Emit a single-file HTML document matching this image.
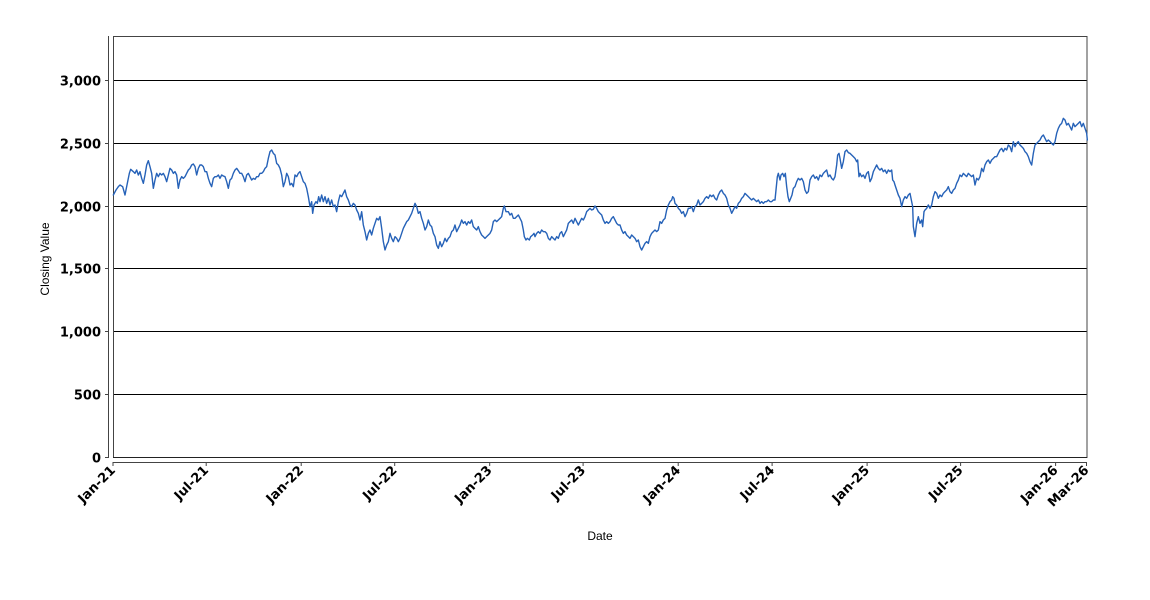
<!DOCTYPE html>
<html>
<head>
<meta charset="utf-8">
<style>
  html, body { margin:0; padding:0; background:#ffffff; }
  svg { display:block; }
  .tick { font-family:"DejaVu Sans","Liberation Sans",sans-serif; font-size:13px; font-weight:bold; fill:#000; }
  .title { font-family:"Liberation Sans","DejaVu Sans",sans-serif; font-size:12px; fill:#000; }
  .s { fill:none; stroke:#2662b8; stroke-width:1.4; stroke-linejoin:round; stroke-linecap:round; vector-effect:non-scaling-stroke; }
</style>
</head>
<body>
<svg width="1150" height="600" viewBox="0 0 1150 600" xmlns="http://www.w3.org/2000/svg">
  <rect x="0" y="0" width="1150" height="600" fill="#ffffff"/>

  <!-- gridlines -->
  <g stroke="#000" stroke-width="1">
    <line x1="113" y1="80.5" x2="1087" y2="80.5"/>
    <line x1="113" y1="143.5" x2="1087" y2="143.5"/>
    <line x1="113" y1="206.5" x2="1087" y2="206.5"/>
    <line x1="113" y1="268.5" x2="1087" y2="268.5"/>
    <line x1="113" y1="331.5" x2="1087" y2="331.5"/>
    <line x1="113" y1="394.5" x2="1087" y2="394.5"/>
  </g>

  <!-- plot border -->
  <rect x="113.5" y="36.5" width="973.5" height="421" fill="none" stroke="#444" stroke-width="1"/>
  <line x1="113" y1="457.5" x2="1087" y2="457.5" stroke="#222" stroke-width="1"/>

  <!-- y axis -->
  <line x1="108.5" y1="36" x2="108.5" y2="458" stroke="#444" stroke-width="1"/>
  <g stroke="#444" stroke-width="1">
    <line x1="105" y1="80.5" x2="108.5" y2="80.5"/>
    <line x1="105" y1="143.5" x2="108.5" y2="143.5"/>
    <line x1="105" y1="206.5" x2="108.5" y2="206.5"/>
    <line x1="105" y1="268.5" x2="108.5" y2="268.5"/>
    <line x1="105" y1="331.5" x2="108.5" y2="331.5"/>
    <line x1="105" y1="394.5" x2="108.5" y2="394.5"/>
    <line x1="105" y1="457.5" x2="108.5" y2="457.5"/>
  </g>
  <g class="tick" text-anchor="end">
    <text x="101" y="85.5">3,000</text>
    <text x="101" y="148.5">2,500</text>
    <text x="101" y="211.5">2,000</text>
    <text x="101" y="273.5">1,500</text>
    <text x="101" y="336.5">1,000</text>
    <text x="101" y="399.5">500</text>
    <text x="101" y="462.5">0</text>
  </g>

  <!-- x axis -->
  <line x1="113" y1="462.5" x2="1087" y2="462.5" stroke="#444" stroke-width="1"/>
  <g stroke="#444" stroke-width="1">
    <line x1="113" y1="462" x2="113" y2="466"/>
    <line x1="206.2" y1="462" x2="206.2" y2="466"/>
    <line x1="301.2" y1="462" x2="301.2" y2="466"/>
    <line x1="394.7" y1="462" x2="394.7" y2="466"/>
    <line x1="489.7" y1="462" x2="489.7" y2="466"/>
    <line x1="583.1" y1="462" x2="583.1" y2="466"/>
    <line x1="678.2" y1="462" x2="678.2" y2="466"/>
    <line x1="772.1" y1="462" x2="772.1" y2="466"/>
    <line x1="867.1" y1="462" x2="867.1" y2="466"/>
    <line x1="960.6" y1="462" x2="960.6" y2="466"/>
    <line x1="1055.6" y1="462" x2="1055.6" y2="466"/>
    <line x1="1086.5" y1="462" x2="1086.5" y2="466"/>
  </g>
  <g class="tick" text-anchor="end">
    <text transform="translate(116,471) rotate(-45)">Jan-21</text>
    <text transform="translate(209.2,471) rotate(-45)">Jul-21</text>
    <text transform="translate(304.2,471) rotate(-45)">Jan-22</text>
    <text transform="translate(397.7,471) rotate(-45)">Jul-22</text>
    <text transform="translate(492.7,471) rotate(-45)">Jan-23</text>
    <text transform="translate(586.1,471) rotate(-45)">Jul-23</text>
    <text transform="translate(681.2,471) rotate(-45)">Jan-24</text>
    <text transform="translate(775.1,471) rotate(-45)">Jul-24</text>
    <text transform="translate(870.1,471) rotate(-45)">Jan-25</text>
    <text transform="translate(963.6,471) rotate(-45)">Jul-25</text>
    <text transform="translate(1058.6,471) rotate(-45)">Jan-26</text>
    <text transform="translate(1089.5,471) rotate(-45)">Mar-26</text>
  </g>

  <!-- axis titles -->
  <text class="title" text-anchor="middle" transform="translate(49,259) rotate(-90)">Closing Value</text>
  <text class="title" text-anchor="middle" x="600" y="540">Date</text>

  <!-- series -->
  <g>
    <polyline class="s" transform="translate(110,140) scale(0.333333)" points="10,165 18,150 25,140 30,135 38,140 45,165 50,140 58,100 62,88 70,95 75,100 80,90 85,105 90,95 95,115 100,130 105,105 110,75 115,62 120,80 125,100 130,145 135,120 140,100 145,110 150,100 155,105 160,100 165,110 170,125 175,105 180,85 185,90 190,100 195,95 200,105 205,145 210,120 215,110 220,115 225,110 230,100 235,90 240,85 245,75 250,72 255,80 260,105 265,85 270,75 275,75 280,80 285,95 290,95 295,115 300,130 305,140 310,115 315,110 320,110 325,105 330,115 335,105 340,108 345,110 350,125 355,145 360,120 365,115 370,100 375,90 380,85 385,92 390,100 395,100 400,110 405,125 410,105 415,100 420,110 425,120 430,115 435,118 440,110 445,110 450,100 455,100 460,95 465,85 470,80 475,55 480,35 485,30 490,40 495,45 500,70 505,75 510,85 515,105 520,140 525,125 530,100 535,110 540,135 545,130 550,140 555,105 560,110 565,100 570,95 575,110 580,125 585,130 590,145 595,170 600,200"/>
    <polyline class="s" transform="translate(300,170) scale(0.333333)" points="30,110 35,95 38,130 42,105 48,95 52,100 56,80 60,95 65,75 70,95 75,80 80,100 85,85 90,105 95,90 100,110 105,105 110,125 115,95 120,75 125,80 130,70 135,60 140,80 145,90 150,105 155,110 160,100 165,105 170,120 175,130 180,150 185,125 190,165 195,185 200,210 205,190 210,180 215,195 220,175 225,160 230,145 235,150 240,140 245,175 250,215 255,240 260,225 265,215 270,190 275,205 280,215 285,200 290,205 295,215 300,205 305,190 310,175 315,165 320,155 325,150 330,140 335,130 340,115 345,100 350,110 355,130 360,125 365,145 370,160 375,180 380,170 385,150 390,165 395,170 400,190 405,200 410,225 415,235 420,215 425,230 430,220 435,205 440,215 445,205 450,200 455,185 460,180 465,165 470,185 475,175 480,165 485,150 490,160 495,155 500,165 505,155 510,160 515,150 520,170 525,175 530,180 535,170 540,185 545,195 550,200 555,205 560,200 565,195 570,190 575,180 580,155 585,150 590,155 600,145"/>
    <polyline class="s" transform="translate(490,190) scale(0.333333)" points="30,85 35,80 40,55 43,48 48,65 55,65 60,75 65,70 70,85 75,85 80,80 85,75 90,85 95,95 100,120 103,140 108,150 112,145 118,150 122,140 128,135 132,130 135,140 140,130 145,125 150,130 155,120 160,125 165,125 170,130 175,145 180,150 185,140 190,145 195,150 200,140 205,145 210,130 215,125 220,140 225,130 230,120 235,100 240,95 245,90 250,100 255,85 260,95 265,105 270,95 275,85 280,90 285,80 290,65 295,60 300,55 305,60 310,58 315,48 320,55 325,65 330,70 335,75 340,90 345,100 350,95 355,100 360,95 365,85 370,80 375,90 380,100 385,105 390,105 395,120 400,130 405,125 410,135 415,140 420,145 425,135 430,140 435,145 440,155 445,150 450,170 455,180 460,170 465,160 470,155 475,160 480,140 485,130 490,125 495,120 500,125 505,120 510,95 515,100 520,90 525,85 530,60 535,45 540,35 545,30 548,20 552,25 555,40 560,45 565,55 570,60 575,70 580,65 585,80 590,70 595,55 600,55"/>
    <polyline class="s" transform="translate(680,140) scale(0.333333)" points="30,205 35,200 40,215 45,200 50,195 55,180 60,195 65,190 70,185 75,175 80,170 85,175 90,165 95,170 100,165 105,175 110,180 115,165 120,155 125,150 130,160 135,165 140,175 145,195 150,205 155,220 160,210 165,200 170,205 175,190 180,185 185,175 190,170 195,160 200,165 205,170 210,175 215,180 220,175 225,180 230,185 235,180 240,190 245,185 250,190 255,185 260,185 265,180 270,185 275,185 280,180 285,180 288,150 292,110 295,100 300,120 303,105 308,100 312,110 316,100 320,140 324,170 328,185 332,175 336,165 340,145 345,140 350,125 355,115 360,120 365,115 370,125 375,150 380,160 385,155 390,120 395,110 400,105 405,115 410,110 415,120 420,105 425,110 430,100 435,95 440,90 445,110 450,105 455,115 460,120 465,110 470,75 473,45 477,40 480,55 485,85 490,65 495,35 500,30 505,38 510,40 515,45 520,50 525,55 530,65 533,60 537,110 540,100 545,110 550,105 555,115 560,100 565,95 570,125 575,115 580,95 585,85 590,75 595,85 600,90"/>
    <polyline class="s" transform="translate(870,110) scale(0.333333)" points="30,180 35,175 40,185 45,180 50,190 55,180 60,185 65,180 68,210 72,215 75,225 80,240 85,255 90,265 95,290 100,270 105,260 110,265 115,255 120,250 125,275 128,290 130,350 135,380 140,340 145,320 150,340 155,330 158,350 162,305 165,300 170,295 175,285 180,295 185,285 190,260 195,245 200,250 205,265 210,255 215,260 220,250 225,245 230,240 235,230 240,245 245,250 250,240 255,235 260,220 265,210 270,195 275,200 280,190 285,195 290,200 295,190 300,195 305,200 310,195 315,225 320,205 325,210 330,200 335,175 340,185 345,165 350,155 355,150 360,160 365,150 370,145 375,140 380,140 385,130 390,120 395,115 400,125 405,115 410,120 415,105 420,110 425,125 430,95 435,110 440,100 445,95 450,105 455,110 460,115 465,125 470,130 475,140 480,155 485,165 490,130 495,105 500,100 505,95 510,90 515,80 520,75 525,85 530,95 535,90 540,95 545,100 550,105 555,95 560,70 565,55 570,45 575,40 580,25 585,30 590,45 595,40 600,50 605,60 610,40 615,50 620,45 625,40 630,35 635,50 640,40 645,55 650,70 652,90"/>
  </g>
</svg>
</body>
</html>
